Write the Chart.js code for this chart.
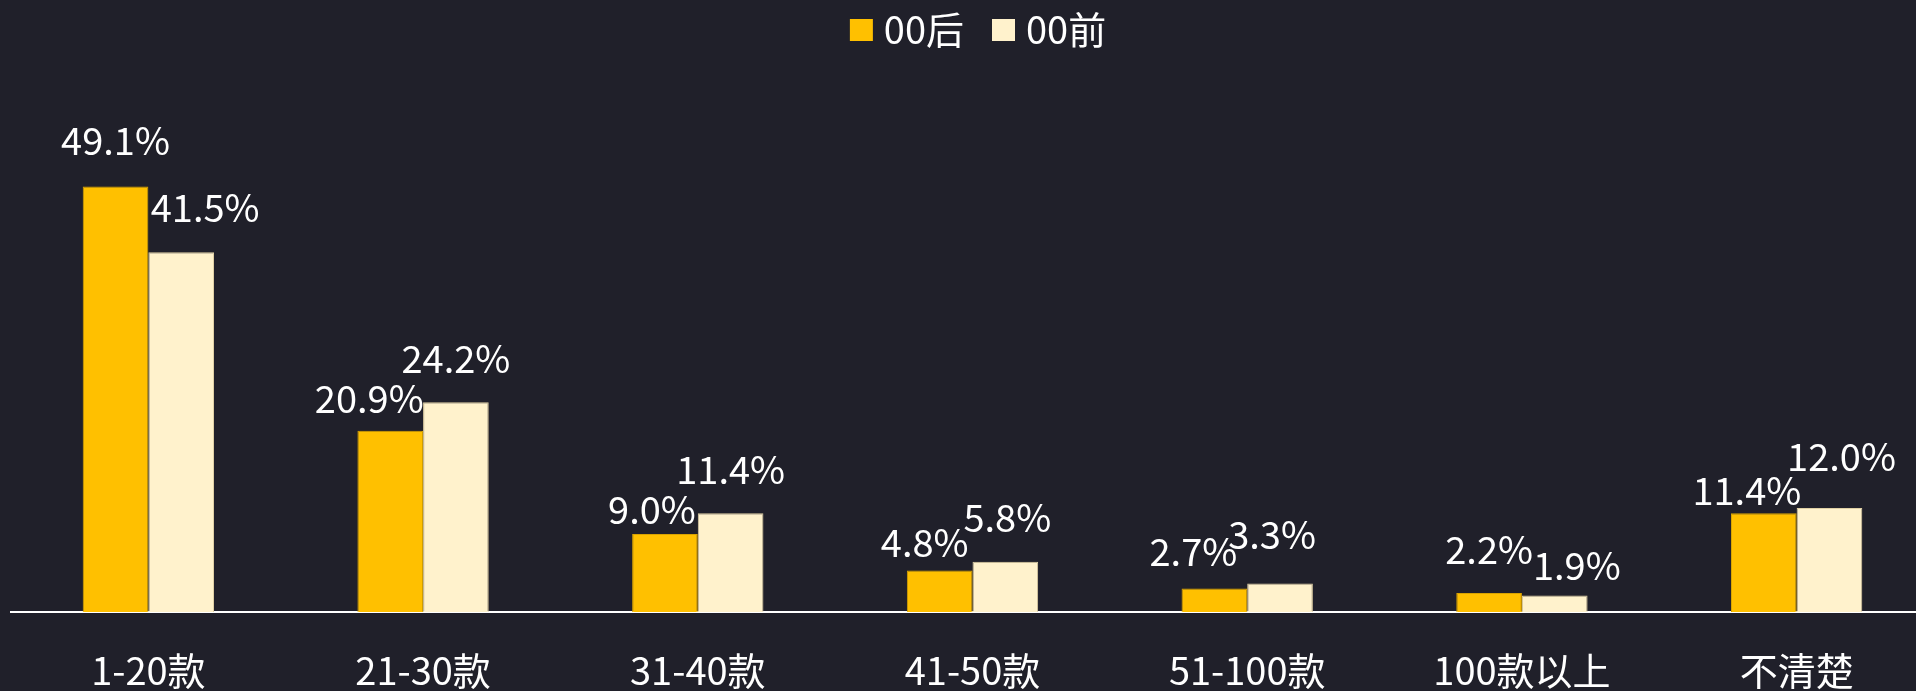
<!DOCTYPE html>
<html>
<head>
<meta charset="utf-8">
<script src="https://cdn.jsdelivr.net/npm/chart.js@4"></script>
<style>
  html, body { margin: 0; padding: 0; background: #20202a; overflow: hidden; }
  canvas { display: block; }
</style>
</head>
<body>
<canvas id="myChart" width="1958" height="691"></canvas>
<script>
var categories = ['1-20款', '21-30款', '31-40款', '41-50款', '51-100款', '100款以上', '不清楚'];
var after00 = [49.1, 20.9, 9.0, 4.8, 2.7, 2.2, 11.4];
var before00 = [41.5, 24.2, 11.4, 5.8, 3.3, 1.9, 12.0];

// label nudges (px), the original labels were moved by hand
var labelShift = [
    { dx: [0, -21, -13, -15, -21, 0, -17], gap: [31, 18, 10, 13, 23, 29, 8] },
    { dx: [24, 0, 0, 2, -8, 22, 12], gap: [30, 29, 29, 30, 34, 16, 37] }
];

var fontFamily = '"Noto Sans CJK SC", "Noto Sans", sans-serif';

// legend square, drawn off-centre so it sits close to its text
function swatch(color) {
    var c = document.createElement('canvas');
    c.width = 46;
    c.height = 22;
    var g = c.getContext('2d');
    g.fillStyle = color;
    g.fillRect(21, 0, 23, 22);
    return c;
}

var valueLabels = {
    id: 'valueLabels',
    afterDatasetsDraw: function (chart) {
        var ctx = chart.ctx;
        ctx.save();
        ctx.font = '38px ' + fontFamily;
        ctx.fillStyle = '#ffffff';
        ctx.textAlign = 'center';
        ctx.textBaseline = 'alphabetic';
        chart.data.datasets.forEach(function (ds, di) {
            var meta = chart.getDatasetMeta(di);
            meta.data.forEach(function (bar, i) {
                var s = labelShift[di];
                ctx.fillText(ds.data[i].toFixed(1) + '%', bar.x + s.dx[i], bar.y - s.gap[i]);
            });
        });
        ctx.restore();
    }
};

var ctx = document.getElementById('myChart').getContext('2d');
var chart = new Chart(ctx, {
    type: 'bar',
    data: {
        labels: categories,
        datasets: [{
            label: '00后',
            data: after00,
            backgroundColor: '#ffc000',
            borderColor: '#d9a300',
            borderWidth: 1,
            pointStyle: swatch('#ffc000'),
            barPercentage: 1,
            categoryPercentage: 0.478
        }, {
            label: '00前',
            data: before00,
            backgroundColor: '#fff2cc',
            borderColor: '#e0d0a4',
            borderWidth: 1,
            pointStyle: swatch('#fff2cc'),
            barPercentage: 1,
            categoryPercentage: 0.478
        }]
    },
    options: {
        responsive: false,
        animation: false,
        layout: {
            padding: { left: 11, right: 24, top: -6, bottom: 0 }
        },
        plugins: {
            legend: {
                position: 'top',
                labels: {
                    color: '#ffffff',
                    usePointStyle: true,
                    pointStyleWidth: 26,
                    boxHeight: 22,
                    padding: 17,
                    font: { size: 38, family: fontFamily }
                }
            },
            tooltip: { enabled: false }
        },
        scales: {
            x: {
                grid: { display: false, drawTicks: false },
                border: { display: true, color: '#ffffff', width: 2 },
                ticks: {
                    color: '#ffffff',
                    padding: 36,
                    font: { size: 38, family: fontFamily }
                },
                afterFit: function (scale) {
                    scale.height = 79;
                }
            },
            y: {
                display: false,
                min: 0,
                max: 63.8
            }
        }
    },
    plugins: [valueLabels]
});
</script>
</body>
</html>
